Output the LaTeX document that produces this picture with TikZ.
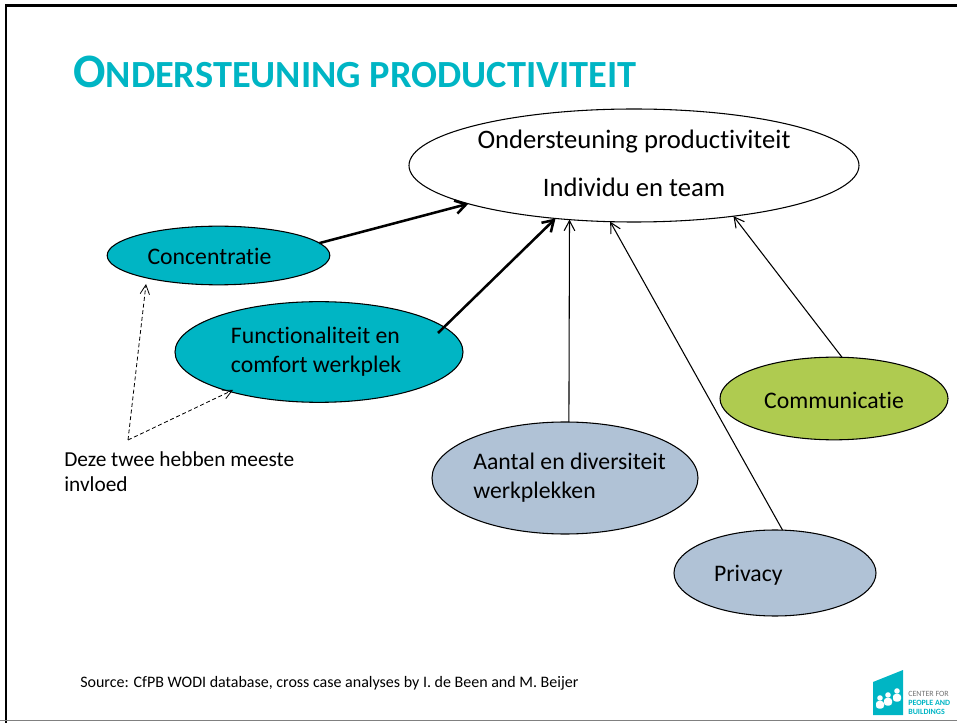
\documentclass[tikz,border=0pt]{standalone}
\usepackage{fontspec}
\setmainfont[Ligatures=CommonOff]{Carlito}
\usetikzlibrary{arrows.meta,shapes.geometric}
\definecolor{tealfill}{HTML}{00B5C4}
\definecolor{limefill}{HTML}{AFCB50}
\definecolor{greyfill}{HTML}{B0C2D6}
\tikzset{
    oval/.style={ellipse,draw=black,line width=0.8pt,inner sep=0pt,outer sep=0pt,font=\fontsize{17.8}{21.5}\selectfont,align=left},
    thinarrow/.style={line width=0.8pt,-{Straight Barb[length=7.5pt,width=8pt]}},
    thickarrow/.style={line width=1.9pt,-{Straight Barb[length=8pt,width=10pt]}},
    hintarrow/.style={line width=0.6pt,dash pattern=on 3pt off 2pt,-{Straight Barb[length=7pt,width=7pt]}},
}
\begin{document}
\begin{tikzpicture}[x=0.75pt,y=-0.75pt]
    \useasboundingbox (0,0) rectangle (957,723);
    % slide frame
    \coordinate (frameA) at (6,723);
    \coordinate (frameB) at (6,5.5);
    \coordinate (frameC) at (957,5.5);
    \coordinate (frameD) at (0,720.5);
    \coordinate (frameE) at (957,720.5);
    \draw[line width=2pt] (frameA) -- (frameB) -- (frameC);
    \draw[line width=1pt,black!50] (frameD) -- (frameE);
    % title
    \node[anchor=base west,inner sep=0pt,text=tealfill,font=\bfseries] (title) at (73,88) {\fontsize{36}{36}\selectfont O\fontsize{28.8}{28.8}\selectfont NDERSTEUNING PRODUCTIVITEIT};
    % ovals
    \node[oval,fill=white,minimum width=337.5pt,minimum height=84.75pt,align=center,font=\fontsize{20}{24}\selectfont] (goal) at (634,165.5) {Ondersteuning productiviteit\\[12pt]Individu en team\rule[-3.2pt]{0pt}{1pt}};
    \node[oval,fill=tealfill,minimum width=167pt,minimum height=44pt] (conc) at (218.5,255.5) {\hspace*{-13.5pt}\rule{0pt}{13.7pt}Concentratie};
    \node[oval,fill=tealfill,minimum width=216pt,minimum height=75.5pt] (func) at (319,352) {\hspace*{-4.5pt}Functionaliteit en\\\hspace*{-4.5pt}comfort werkplek};
    \node[oval,fill=limefill,minimum width=171pt,minimum height=62pt] (comm) at (834,398.5) {\rule{0pt}{15pt}Communicatie};
    \node[oval,fill=greyfill,inner xsep=-8pt,minimum width=199.5pt,minimum height=84pt] (aantal) at (565,478) {\hspace*{6.8pt}Aantal en diversiteit\\\hspace*{6.8pt}werkplekken};
    \node[oval,fill=greyfill,minimum width=151.5pt,minimum height=64.5pt] (priv) at (775,573) {\hspace*{-40pt}\rule{0pt}{15.6pt}Privacy};
    % arrows to the goal
    \coordinate (funcstart) at (438,333);
    \draw[thickarrow] (conc.7) -- (goal.193.7);
    \draw[thickarrow] (funcstart) -- (goal.214.5);
    \draw[thinarrow] (aantal.86) -- (goal.220.4);
    \draw[thinarrow] (priv.80.8) -- (goal.247.3);
    \draw[thinarrow] (comm.79) -- (goal.333);
    % hint
    \coordinate (hint) at (128,440);
    \coordinate (hintA) at (146,284);
    \coordinate (hintB) at (233,390);
    \draw[hintarrow] (hint) -- (hintA);
    \draw[hintarrow] (hint) -- (hintB);
    \node[anchor=north west,inner sep=0pt,align=left,font=\fontsize{16}{19}\selectfont] (note) at (64,451) {Deze twee hebben meeste\\invloed};
    % source
    \node[anchor=base west,inner sep=0pt,font=\fontsize{12}{14}\selectfont] (source) at (80,687) {Source: CfPB WODI database, cross case analyses by I. de Been and M. Beijer};
    % logo
    \fill[tealfill] (873,682) -- (903,670) -- (903,715) -- (873,715) -- cycle;
    \foreach \px/\py in {880/698,888/695,897/691}{
        \fill[white] (\px,\py) circle (2.8);
        \fill[white,rounded corners=2] (\px-4,\py+10.5) rectangle (\px+4,\py+3);
    }
    \node[anchor=west,inner sep=0pt,align=left,text=tealfill,font=\fontsize{6}{6.75}\selectfont] (logotext) at (908,703) {\textcolor{black!55}{CENTER FOR}\\\textbf{PEOPLE AND}\\\textbf{BUILDINGS}};
\end{tikzpicture}
\end{document}
